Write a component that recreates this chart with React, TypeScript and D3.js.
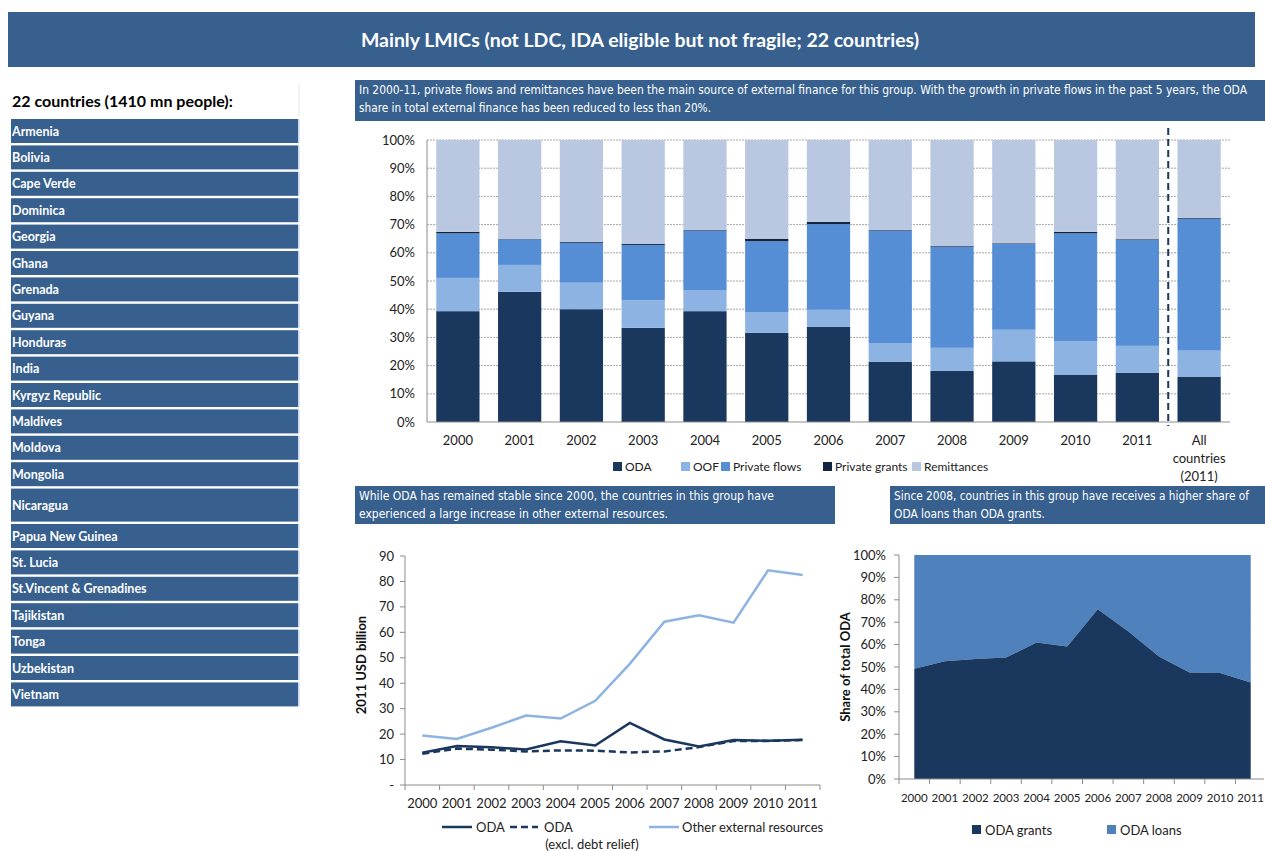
import * as d3 from "d3";

const title = "Mainly LMICs (not LDC, IDA eligible but not fragile; 22 countries)";
const listHeading = "22 countries (1410 mn people):";
const countries = [
  "Armenia", "Bolivia", "Cape Verde", "Dominica", "Georgia", "Ghana", "Grenada", "Guyana",
  "Honduras", "India", "Kyrgyz Republic", "Maldives", "Moldova", "Mongolia", "Nicaragua",
  "Papua New Guinea", "St. Lucia", "St.Vincent & Grenadines", "Tajikistan", "Tonga",
  "Uzbekistan", "Vietnam",
];

const topNote = [
  "In 2000-11, private flows and remittances have been the main source of external finance for this group. With the growth in private flows in the past 5 years, the ODA",
  "share in total external finance has been reduced to less than 20%.",
];
const leftNote = [
  "While ODA has remained stable since 2000, the countries in this group have",
  "experienced a large increase in other external resources.",
];
const rightNote = [
  "Since 2008, countries in this group have receives a higher share of",
  "ODA loans than ODA grants.",
];

// top stacked bars (% of total external finance)
const barCats = ["2000", "2001", "2002", "2003", "2004", "2005", "2006", "2007", "2008", "2009", "2010", "2011", "All"];
const odaShare = [39.3, 46.2, 40.0, 33.4, 39.3, 31.6, 33.8, 21.4, 18.2, 21.5, 16.8, 17.5, 16.1];
const oofShare = [11.8, 9.5, 9.4, 9.8, 7.5, 7.4, 6.0, 6.6, 8.1, 11.2, 11.8, 9.5, 9.2];
const privFlowShare = [15.8, 9.1, 14.1, 19.6, 21.1, 25.1, 30.4, 39.9, 35.9, 30.5, 38.3, 37.5, 46.8];
const privGrantShare = [0.5, 0.1, 0.3, 0.4, 0.2, 0.8, 0.8, 0.2, 0.3, 0.2, 0.5, 0.3, 0.3];
const remitShare = [32.6, 35.1, 36.2, 36.8, 31.9, 35.1, 29.0, 31.9, 37.5, 36.6, 32.6, 35.2, 27.6];

const barSeries = [
  { name: "ODA", values: odaShare, color: "#1a375e" },
  { name: "OOF", values: oofShare, color: "#8db3e2" },
  { name: "Private flows", values: privFlowShare, color: "#558ed5" },
  { name: "Private grants", values: privGrantShare, color: "#10253f" },
  { name: "Remittances", values: remitShare, color: "#b9c7e0" },
];

// bottom charts
const years = ["2000", "2001", "2002", "2003", "2004", "2005", "2006", "2007", "2008", "2009", "2010", "2011"];
const odaUsd = [12.7, 15.3, 14.8, 14.0, 17.2, 15.5, 24.4, 17.9, 15.1, 17.7, 17.4, 17.8];
const odaExclDebt = [12.3, 14.3, 13.9, 13.2, 13.6, 13.5, 12.8, 13.2, 14.9, 17.3, 17.3, 17.7];
const otherExternal = [19.5, 18.1, 22.5, 27.3, 26.1, 33.1, 47.6, 64.2, 66.7, 63.8, 84.4, 82.5];
const grantShare = [49.2, 52.6, 53.6, 54.2, 60.9, 59.1, 75.8, 65.8, 54.7, 47.5, 47.3, 43.1];

const BLUE = "#37608f";
const FONT = "Lato, 'Open Sans', sans-serif";
const NARROW = "'Liberation Sans Narrow', 'DejaVu Sans Condensed', Lato, sans-serif";
const AXIS = "#8c8c8c";

const Note = ({ x, y, w, h, lines, lens }: { x: number; y: number; w: number; h: number; lines: string[]; lens: number[] }) => (
  <g>
    <rect x={x} y={y} width={w} height={h} fill={BLUE} />
    {lines.map((l, i) => (
      <text key={i} x={x + 4} y={y + 14 + i * 18} fill="#fff" fontSize={12} fontFamily={NARROW}
        textLength={lens[i]} lengthAdjust="spacingAndGlyphs">{l}</text>
    ))}
  </g>
);

function TopChart() {
  const x = d3.scaleBand().domain(barCats).range([427, 1230]).paddingInner(0.3).paddingOuter(0.15);
  const y = d3.scaleLinear().domain([0, 100]).range([422, 140]);
  const rows = barCats.map((c, i) => {
    const o: any = { cat: c };
    barSeries.forEach((s) => (o[s.name] = s.values[i]));
    return o;
  });
  const stacked = d3.stack().keys(barSeries.map((s) => s.name))(rows);
  const ticks = d3.range(0, 101, 10);
  const legendX = [613, 681, 721, 823, 912];
  const lastYear = x("2011")! + x.bandwidth();
  const dashX = (lastYear + x("All")!) / 2;
  return (
    <g>
      {ticks.map((t) => (
        <g key={t}>
          {t > 0 && <line x1={427} x2={1230} y1={y(t)} y2={y(t)} stroke="#a6a6a6" strokeDasharray="2,1" />}
          <text x={415} y={y(t) + 4.5} textAnchor="end" fontSize={13} fontFamily={FONT} fill="#222">{t}%</text>
        </g>
      ))}
      {stacked.map((layer, si) => (
        <g key={layer.key} fill={barSeries[si].color}>
          {layer.map((d, i) => (
            <rect key={i} x={x(barCats[i])} width={x.bandwidth()} y={y(d[1])} height={y(d[0]) - y(d[1])} />
          ))}
        </g>
      ))}
      <line x1={427} x2={427} y1={140} y2={422} stroke={AXIS} />
      <line x1={427} x2={1230} y1={422} y2={422} stroke={AXIS} />
      <line x1={dashX} x2={dashX} y1={128} y2={426} stroke="#1a375e" strokeWidth={2} strokeDasharray="7,4" />
      {barCats.map((c) =>
        c === "All" ? (
          <g key={c}>
            {["All", "countries", "(2011)"].map((t, j) => (
              <text key={t} x={x(c)! + x.bandwidth() / 2} y={445 + j * 18} textAnchor="middle" fontSize={13} fontFamily={FONT} fill="#222">{t}</text>
            ))}
          </g>
        ) : (
          <text key={c} x={x(c)! + x.bandwidth() / 2} y={445} textAnchor="middle" fontSize={13} fontFamily={FONT} fill="#222">{c}</text>
        )
      )}
      {barSeries.map((s, i) => (
        <g key={s.name}>
          <rect x={legendX[i]} y={462} width={9} height={9} fill={s.color} />
          <text x={legendX[i] + 12} y={471} fontSize={12} fontFamily={FONT} fill="#222">{s.name}</text>
        </g>
      ))}
    </g>
  );
}

function LineChart() {
  const x = d3.scaleBand().domain(years).range([405, 820]);
  const cx = (yr: string) => x(yr)! + x.bandwidth() / 2;
  const y = d3.scaleLinear().domain([0, 90]).range([785, 556]);
  const line = d3.line<number>().x((_, i) => cx(years[i])).y((d) => y(d));
  const ticks = d3.range(0, 91, 10);
  return (
    <g>
      <line x1={405} x2={405} y1={556} y2={785} stroke={AXIS} />
      <line x1={405} x2={820} y1={785} y2={785} stroke={AXIS} />
      {ticks.map((t) => (
        <g key={t}>
          <line x1={400} x2={405} y1={y(t)} y2={y(t)} stroke={AXIS} />
          <text x={394} y={y(t) + 4.5} textAnchor="end" fontSize={13} fontFamily={FONT} fill="#222">{t === 0 ? "-" : t}</text>
        </g>
      ))}
      {years.map((yr) => (
        <g key={yr}>
          <line x1={x(yr)} x2={x(yr)} y1={785} y2={790} stroke={AXIS} />
          <text x={cx(yr)} y={808} textAnchor="middle" fontSize={13} fontFamily={FONT} fill="#222">{yr}</text>
        </g>
      ))}
      <line x1={820} x2={820} y1={785} y2={790} stroke={AXIS} />
      <text transform="translate(366,665) rotate(-90)" textAnchor="middle" fontSize={13} fontWeight="bold" fontFamily={FONT} fill="#111">2011 USD billion</text>
      <path d={line(otherExternal)!} fill="none" stroke="#8db3e2" strokeWidth={2.5} />
      <path d={line(odaExclDebt)!} fill="none" stroke="#1a375e" strokeWidth={2.5} strokeDasharray="7,4" />
      <path d={line(odaUsd)!} fill="none" stroke="#1a375e" strokeWidth={2.5} />
      <line x1={442} x2={472} y1={827} y2={827} stroke="#1a375e" strokeWidth={2.5} />
      <text x={476} y={832} fontSize={13} fontFamily={FONT} fill="#222">ODA</text>
      <line x1={510} x2={538} y1={827} y2={827} stroke="#1a375e" strokeWidth={2.5} strokeDasharray="7,4" />
      <text x={544} y={832} fontSize={13} fontFamily={FONT} fill="#222">ODA</text>
      <text x={592} y={849} textAnchor="middle" fontSize={13} fontFamily={FONT} fill="#222">(excl. debt relief)</text>
      <line x1={649} x2={679} y1={827} y2={827} stroke="#8db3e2" strokeWidth={2.5} />
      <text x={682} y={832} fontSize={13} fontFamily={FONT} fill="#222">Other external resources</text>
    </g>
  );
}

function AreaChart() {
  const x = d3.scaleBand().domain(years).range([899, 1266]);
  const cx = (yr: string) => x(yr)! + x.bandwidth() / 2;
  const y = d3.scaleLinear().domain([0, 100]).range([779, 555]);
  const grants = d3.area<number>().x((_, i) => cx(years[i])).y0(y(0)).y1((d) => y(d));
  const loans = d3.area<number>().x((_, i) => cx(years[i])).y0((d) => y(d)).y1(y(100));
  const ticks = d3.range(0, 101, 10);
  return (
    <g>
      <path d={loans(grantShare)!} fill="#4f81bd" />
      <path d={grants(grantShare)!} fill="#1a375e" />
      <line x1={899} x2={899} y1={555} y2={779} stroke={AXIS} />
      <line x1={899} x2={1264} y1={779} y2={779} stroke={AXIS} />
      {ticks.map((t) => (
        <g key={t}>
          <line x1={894} x2={899} y1={y(t)} y2={y(t)} stroke={AXIS} />
          <text x={886} y={y(t) + 4.5} textAnchor="end" fontSize={13} fontFamily={FONT} fill="#222">{t}%</text>
        </g>
      ))}
      {years.map((yr) => (
        <g key={yr}>
          <line x1={x(yr)} x2={x(yr)} y1={779} y2={784} stroke={AXIS} />
          <text x={cx(yr)} y={802} textAnchor="middle" fontSize={11.5} fontFamily={FONT} fill="#222">{yr}</text>
        </g>
      ))}
      <text transform="translate(850,667) rotate(-90)" textAnchor="middle" fontSize={13} fontWeight="bold" fontFamily={FONT} fill="#111">Share of total ODA</text>
      <rect x={972} y={825} width={9} height={9} fill="#1a375e" />
      <text x={985} y={835} fontSize={13} fontFamily={FONT} fill="#222">ODA grants</text>
      <rect x={1107} y={825} width={9} height={9} fill="#4f81bd" />
      <text x={1120} y={835} fontSize={13} fontFamily={FONT} fill="#222">ODA loans</text>
    </g>
  );
}

function CountryList() {
  const normal = 24;
  const tall = 33;
  const gap = 2.4;
  let yPos = 119;
  return (
    <g>
      <text x={12} y={107} fontSize={16} fontWeight="bold" fontFamily={FONT} fill="#000">{listHeading}</text>
      <line x1={299} x2={299} y1={84} y2={116} stroke="#e6e6e6" />
      {countries.map((c) => {
        const h = c === "Nicaragua" ? tall : normal;
        const top = yPos;
        yPos += h + gap;
        return (
          <g key={c}>
            <rect x={11} y={top} width={287} height={h} fill={BLUE} />
            <rect x={298} y={top} width={1.5} height={h} fill="#c9d6ea" />
            <text x={12} y={top + h / 2 + 4.5} fontSize={12.5} fontWeight="bold" fontFamily={FONT} fill="#fff">{c}</text>
          </g>
        );
      })}
    </g>
  );
}

export default function App() {
  return (
    <svg width={1265} height={851} style={{ position: "absolute", left: 0, top: 0, background: "#fff" }}>
      <rect x={8} y={12} width={1247} height={55} fill={BLUE} />
      <text x={640} y={47} textAnchor="middle" fontSize={19} fontWeight="bold" fontFamily={FONT} fill="#fff"
        textLength={558} lengthAdjust="spacingAndGlyphs">{title}</text>
      <CountryList />
      <Note x={355} y={80} w={910} h={41} lines={topNote} lens={[888, 352]} />
      <Note x={355} y={486} w={480} h={38} lines={leftNote} lens={[415, 309]} />
      <Note x={890} y={486} w={375} h={38} lines={rightNote} lens={[355, 151]} />
      <TopChart />
      <LineChart />
      <AreaChart />
    </svg>
  );
}
